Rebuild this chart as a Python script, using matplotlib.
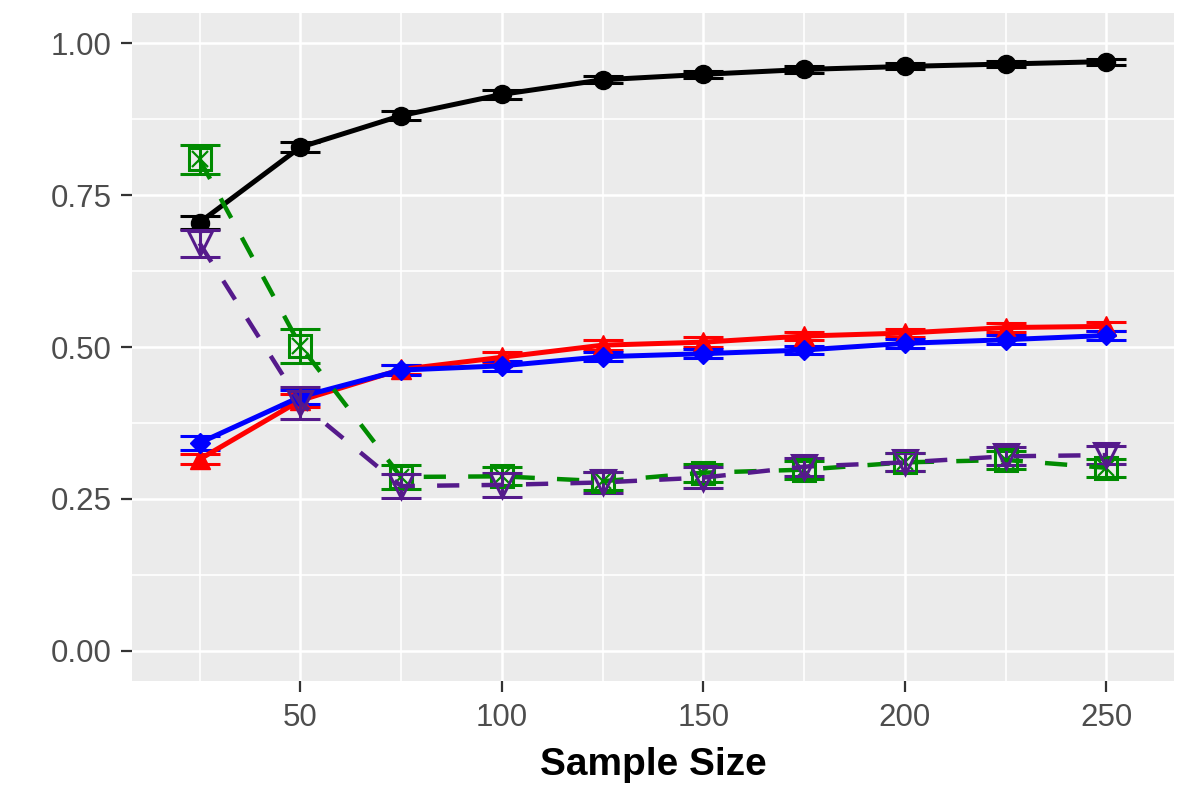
import matplotlib
matplotlib.use("Agg")
import matplotlib.pyplot as plt
from matplotlib.ticker import MultipleLocator

plt.rcParams['font.family'] = ['Liberation Sans', 'DejaVu Sans']

sample_size = [25, 50, 75, 100, 125, 150, 175, 200, 225, 250]

black_vals = [0.705, 0.829, 0.881, 0.916, 0.940, 0.949, 0.957, 0.962, 0.966, 0.970]
black_err = [0.010, 0.008, 0.007, 0.007, 0.006, 0.006, 0.005, 0.005, 0.005, 0.005]
red_vals = [0.315, 0.412, 0.463, 0.483, 0.503, 0.508, 0.518, 0.523, 0.532, 0.534]
red_err = [0.008, 0.010, 0.008, 0.008, 0.008, 0.008, 0.007, 0.007, 0.007, 0.007]
blue_vals = [0.342, 0.418, 0.462, 0.469, 0.484, 0.489, 0.495, 0.506, 0.512, 0.519]
blue_err = [0.012, 0.012, 0.008, 0.008, 0.007, 0.007, 0.007, 0.007, 0.007, 0.007]
green_vals = [0.809, 0.502, 0.286, 0.287, 0.279, 0.293, 0.298, 0.310, 0.314, 0.301]
green_err = [0.024, 0.028, 0.020, 0.015, 0.015, 0.015, 0.015, 0.015, 0.015, 0.015]
purple_vals = [0.671, 0.408, 0.271, 0.273, 0.277, 0.285, 0.303, 0.310, 0.320, 0.322]
purple_err = [0.022, 0.026, 0.020, 0.020, 0.017, 0.017, 0.015, 0.015, 0.015, 0.015]

fig = plt.figure(figsize=(11.96, 7.97), dpi=100)
ax = fig.add_axes([132 / 1196, 1 - 681 / 797, (1174 - 132) / 1196, (681 - 13) / 797])
ax.set_facecolor('#EBEBEB')
for s in ax.spines.values():
    s.set_visible(False)

ax.set_xlim(8.25, 266.75)
ax.set_ylim(-0.05, 1.05)
ax.xaxis.set_major_locator(MultipleLocator(50))
ax.xaxis.set_minor_locator(MultipleLocator(25))
ax.yaxis.set_major_locator(MultipleLocator(0.25))
ax.yaxis.set_minor_locator(MultipleLocator(0.125))
ax.grid(which='major', color='white', linewidth=1.8)
ax.grid(which='minor', color='white', linewidth=1.2)
ax.set_axisbelow(True)
ax.set_yticks([0, 0.25, 0.5, 0.75, 1.0])
ax.set_yticklabels(['0.00', '0.25', '0.50', '0.75', '1.00'])
ax.tick_params(which='major', length=8, width=1.6, color='#333333',
               labelsize=22.5, labelcolor='#4D4D4D', pad=8)
ax.tick_params(axis='y', which='major', pad=6.5)
ax.tick_params(which='minor', length=0)
ax.set_xlabel('Sample Size', fontsize=28, fontweight='bold', color='black', labelpad=10)

cap = 14.5

# solid series
ax.errorbar(sample_size, black_vals, yerr=black_err, color='black', lw=3.6, marker='o',
            ms=13, capsize=cap, capthick=2.2, elinewidth=2.2, zorder=3)
ax.errorbar(sample_size, red_vals, yerr=red_err, color='#FF0000', lw=3.6, marker='^',
            ms=15, capsize=cap, capthick=2.2, elinewidth=2.2, zorder=3)
ax.errorbar(sample_size, blue_vals, yerr=blue_err, color='#0000FF', lw=3.6, marker='D',
            ms=10, capsize=cap, capthick=2.2, elinewidth=2.2, zorder=3)

# dashed series
g = ax.errorbar(sample_size, green_vals, yerr=green_err, color='#008B00', lw=3.2, marker='s',
                ms=16, mfc='none', mew=2.2, capsize=cap, capthick=2.2, elinewidth=2.2, zorder=4)
g[0].set_dashes([5, 5])
ax.plot(sample_size, green_vals, linestyle='none', marker='x', ms=11, mew=1.6,
        color='#008B00', zorder=4)
p = ax.errorbar(sample_size, purple_vals, yerr=purple_err, color='#551A8B', lw=3.2, marker='v',
                ms=17, mfc='none', mew=2.2, capsize=cap, capthick=2.2, elinewidth=2.2, zorder=4)
p[0].set_dashes([5, 5])

fig.savefig('out.png', dpi=100)
